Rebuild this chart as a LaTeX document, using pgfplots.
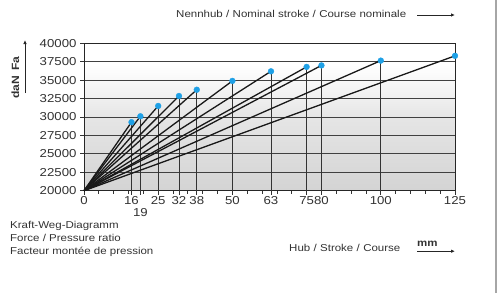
\documentclass[border=0pt]{standalone}
\usepackage{fontspec}
\setmainfont{Liberation Sans}[FakeStretch=1.15]
\usepackage{pgfplots}
\pgfplotsset{compat=1.18}
\usetikzlibrary{arrows.meta}
\definecolor{dotc}{RGB}{30,160,230}
\definecolor{txt}{RGB}{50,50,50}
\pgfdeclareverticalshading{bgshade}{100bp}{color(0bp)=(black!17); color(25bp)=(black!17); color(50bp)=(black!10); color(62bp)=(black!3); color(68bp)=(white); color(100bp)=(white)}
\begin{document}
\begin{tikzpicture}[x=1pt,y=1pt]
\path[use as bounding box] (0,0) rectangle (497,293);
\draw[black!35, line width=1.5pt] (496,0) -- (496,293);
\begin{axis}[
  at={(84pt,102.3pt)}, anchor=south west,
  scale only axis, width=371pt, height=147.4pt,
  xmin=0, xmax=125, ymin=20000, ymax=40000,
  clip=false,
  axis background/.style={shading=bgshade},
  xtick={0,16,19,25,32,38,50,63,75,80,100,125},
  xticklabels={0,16,\smash{\raisebox{-12pt}{19}},25,32,38,50,63,75,80,100,125},
  minor xtick={5,10,15,20,30,35,40,45,55,60,65,70,85,90,95,105,110,115,120},
  ytick={20000,22500,...,40000},
  scaled y ticks=false,
  yticklabel style={/pgf/number format/.cd, fixed, 1000 sep={}, assume math mode=true},
  xticklabel style={/pgf/number format/assume math mode=true, inner xsep=0pt, text height=8pt, text depth=0pt, inner ysep=2pt},
  ticklabel style={font=\fontsize{11.5}{13}\selectfont, text=txt},
  tick align=outside, tick pos=left,
  major tick length=4pt, minor tick length=3pt,
  tick style={black!80, line width=0.8pt},
  ymajorgrids, grid style={black!75, line width=0.8pt},
  axis line style={black!85, line width=1pt},
]
% drop lines
\addplot[black!80, line width=0.9pt] coordinates {(16,20000) (16,29300)};
\addplot[black!80, line width=0.9pt] coordinates {(19,20000) (19,30100)};
\addplot[black!80, line width=0.9pt] coordinates {(25,20000) (25,31500)};
\addplot[black!80, line width=0.9pt] coordinates {(32,20000) (32,32850)};
\addplot[black!80, line width=0.9pt] coordinates {(38,20000) (38,33700)};
\addplot[black!80, line width=0.9pt] coordinates {(50,20000) (50,34900)};
\addplot[black!80, line width=0.9pt] coordinates {(63,20000) (63,36200)};
\addplot[black!80, line width=0.9pt] coordinates {(75,20000) (75,36800)};
\addplot[black!80, line width=0.9pt] coordinates {(80,20000) (80,37000)};
\addplot[black!80, line width=0.9pt] coordinates {(100,20000) (100,37650)};
% force lines
\addplot[black!90, line width=1.3pt] coordinates {(0,20000) (16,29300)};
\addplot[black!90, line width=1.3pt] coordinates {(0,20000) (19,30100)};
\addplot[black!90, line width=1.3pt] coordinates {(0,20000) (25,31500)};
\addplot[black!90, line width=1.3pt] coordinates {(0,20000) (32,32850)};
\addplot[black!90, line width=1.3pt] coordinates {(0,20000) (38,33700)};
\addplot[black!90, line width=1.3pt] coordinates {(0,20000) (50,34900)};
\addplot[black!90, line width=1.3pt] coordinates {(0,20000) (63,36200)};
\addplot[black!90, line width=1.3pt] coordinates {(0,20000) (75,36800)};
\addplot[black!90, line width=1.3pt] coordinates {(0,20000) (80,37000)};
\addplot[black!90, line width=1.3pt] coordinates {(0,20000) (100,37650)};
\addplot[black!90, line width=1.3pt] coordinates {(0,20000) (125,38300)};
% end points
\addplot[only marks, mark=*, mark size=2.9pt, color=dotc] coordinates {
(16,29300) (19,30100) (25,31500) (32,32850) (38,33700) (50,34900)
(63,36200) (75,36800) (80,37000) (100,37650) (125,38300)};
\end{axis}
% labels
\node[anchor=base west, inner sep=0pt, text=txt, font=\fontsize{10}{12}\selectfont] at (176,276) {Nennhub\,\,/\,\,Nominal stroke\,\,/\,\,Course nominale};
\draw[black!85, line width=0.8pt, -{Latex[length=4pt,width=3.5pt]}] (417,278) -- (455,278);
\node[rotate=90, anchor=base, inner sep=0pt, text=txt, font=\bfseries\fontsize{10.5}{12}\selectfont] at (19,215.5) {daN\,\,\,Fa};
\draw[black!85, line width=0.8pt, -{Latex[length=4pt,width=3.5pt]}] (25,200) -- (25,253);
\node[anchor=base west, inner sep=0pt, text=txt, font=\fontsize{10}{12}\selectfont] at (289,41.3) {Hub\,\,/\,\,Stroke\,\,/\,\,Course};
\node[anchor=base west, inner sep=0pt, text=txt, font=\bfseries\fontsize{10}{12}\selectfont] at (417,46.5) {mm};
\draw[black!85, line width=0.8pt, -{Latex[length=4pt,width=3.5pt]}] (417,41.8) -- (455,41.8);
\node[anchor=base west, inner sep=0pt, text=txt, font=\fontsize{10}{13}\selectfont, align=left] at (10,38.7) {Kraft-Weg-Diagramm\\Force / Pressure ratio\\Facteur montée de pression};
\end{tikzpicture}
\end{document}
